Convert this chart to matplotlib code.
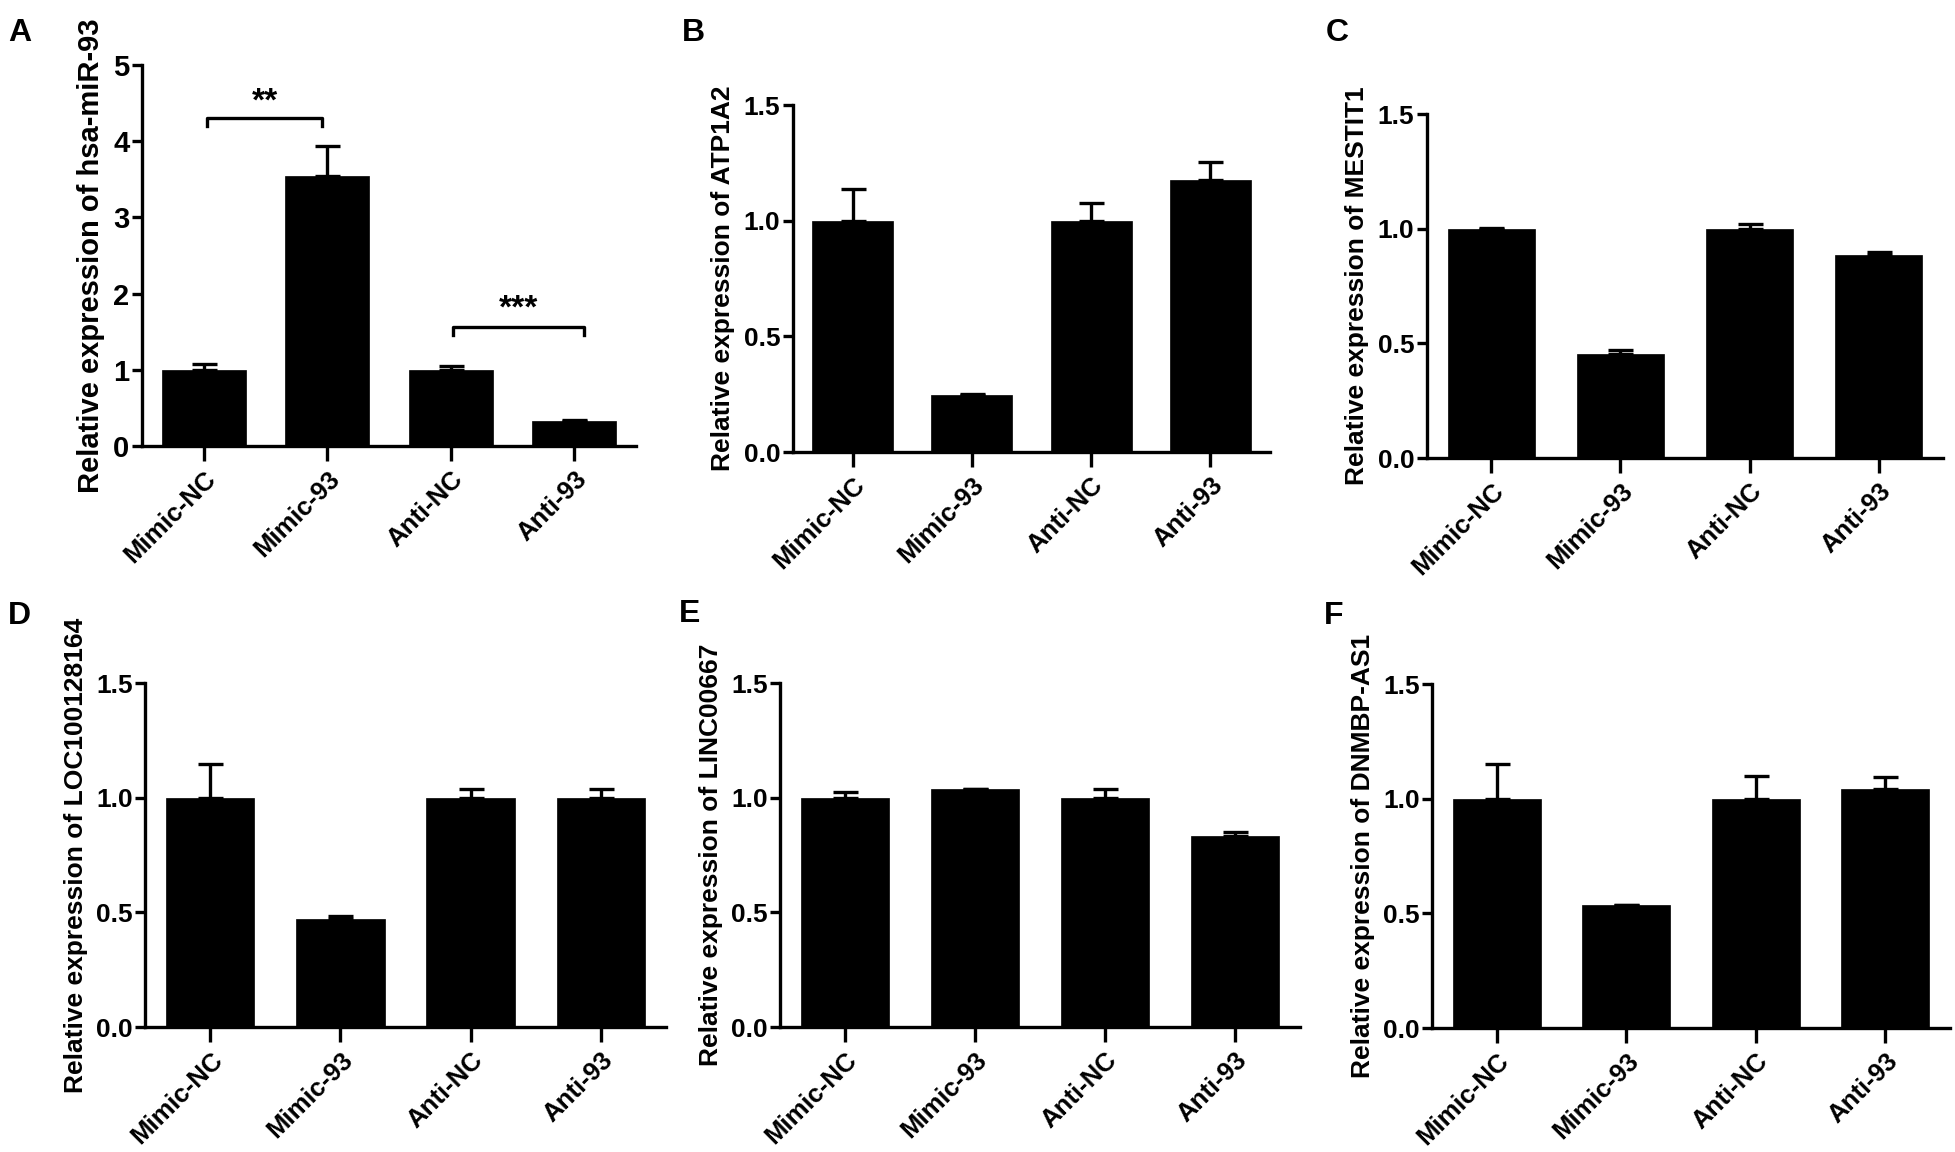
import matplotlib
matplotlib.use("Agg")
import matplotlib.pyplot as plt
from matplotlib.ticker import FormatStrFormatter

plt.rcParams['font.family'] = ['Liberation Sans', 'DejaVu Sans']
plt.rcParams['font.weight'] = 'bold'

groups = ['Mimic-NC', 'Mimic-93', 'Anti-NC', 'Anti-93']

mir93 = [1.0, 3.55, 1.0, 0.33]
mir93_err = [0.08, 0.39, 0.05, 0.01]

atp1a2 = [1.0, 0.247, 1.0, 1.177]
atp1a2_err = [0.135, 0.006, 0.076, 0.078]

mestit1 = [1.0, 0.455, 1.0, 0.886]
mestit1_err = [0.005, 0.018, 0.02, 0.014]

loc100128164 = [1.0, 0.472, 1.0, 1.0]
loc100128164_err = [0.146, 0.011, 0.036, 0.04]

linc00667 = [1.0, 1.039, 1.0, 0.831]
linc00667_err = [0.026, 0.0, 0.037, 0.02]

dnmbp_as1 = [1.0, 0.536, 1.0, 1.041]
dnmbp_as1_err = [0.152, 0.0, 0.098, 0.052]

panels = [
    ('A', 'hsa-miR-93', mir93, mir93_err, [0.0726, 0.6128, 0.2527, 0.3307]),
    ('B', 'ATP1A2', atp1a2, atp1a2_err, [0.4056, 0.6076, 0.2440, 0.3012]),
    ('C', 'MESTIT1', mestit1, mestit1_err, [0.7299, 0.6024, 0.2640, 0.2986]),
    ('D', 'LOC100128164', loc100128164, loc100128164_err, [0.0742, 0.1085, 0.2665, 0.2986]),
    ('E', 'LINC00667', linc00667, linc00667_err, [0.3990, 0.1085, 0.2660, 0.2986]),
    ('F', 'DNMBP-AS1', dnmbp_as1, dnmbp_as1_err, [0.7325, 0.1076, 0.2650, 0.2986]),
]
letter_pos = {'A': (0.004, 0.984), 'B': (0.349, 0.984), 'C': (0.678, 0.984),
              'D': (0.004, 0.478), 'E': (0.347, 0.480), 'F': (0.677, 0.478)}

fig = plt.figure(figsize=(19.55, 11.52), dpi=100)

for letter, gene, vals, errs, rect in panels:
    ax = fig.add_axes(rect)
    x = range(len(groups))
    ax.bar(x, vals, width=0.68, color='black', edgecolor='black', linewidth=0.5,
           yerr=[[0] * len(errs), errs], capsize=9,
           error_kw=dict(ecolor='black', elinewidth=2.4, capthick=2.4))
    ax.set_xlim(-0.5, 3.5)
    if letter == 'A':
        ax.set_ylim(0, 5)
        ax.set_yticks([0, 1, 2, 3, 4, 5])
        ylsize = 21
        ticksize = 21
    else:
        ax.set_ylim(0, 1.5)
        ax.set_yticks([0, 0.5, 1.0, 1.5])
        ax.yaxis.set_major_formatter(FormatStrFormatter('%.1f'))
        ylsize = 19
        ticksize = 19
    ax.set_xticks(list(x))
    ax.set_xticklabels(groups, rotation=45, ha='right', rotation_mode='anchor',
                       fontsize=18.5, fontweight='bold')
    for t in ax.get_yticklabels():
        t.set_fontsize(ticksize)
        t.set_fontweight('bold')
    ax.set_ylabel('Relative expression of ' + gene, fontsize=ylsize, fontweight='bold',
                  labelpad=6)
    ax.spines['top'].set_visible(False)
    ax.spines['right'].set_visible(False)
    ax.spines['left'].set_linewidth(2.4)
    ax.spines['bottom'].set_linewidth(2.4)
    ax.tick_params(axis='y', length=7, width=2.4, pad=2)
    ax.tick_params(axis='x', length=11, width=2.4, pad=4)
    fig.text(letter_pos[letter][0], letter_pos[letter][1], letter,
             fontsize=23, fontweight='bold', va='top', ha='left')

    if letter == 'A':
        # significance brackets
        for x1, x2, yb, ydrop, ytxt, star in [(0.03, 0.96, 4.3, 0.1, 4.52, '**'),
                                              (2.02, 3.08, 1.56, 0.1, 1.8, '***')]:
            ax.plot([x1, x1, x2, x2], [yb - ydrop, yb, yb, yb - ydrop],
                    color='black', lw=2.4, clip_on=False)
            ax.text((x1 + x2) / 2, ytxt, star, ha='center', va='center',
                    fontsize=24, fontweight='bold')

fig.savefig('out.png', dpi=100)
